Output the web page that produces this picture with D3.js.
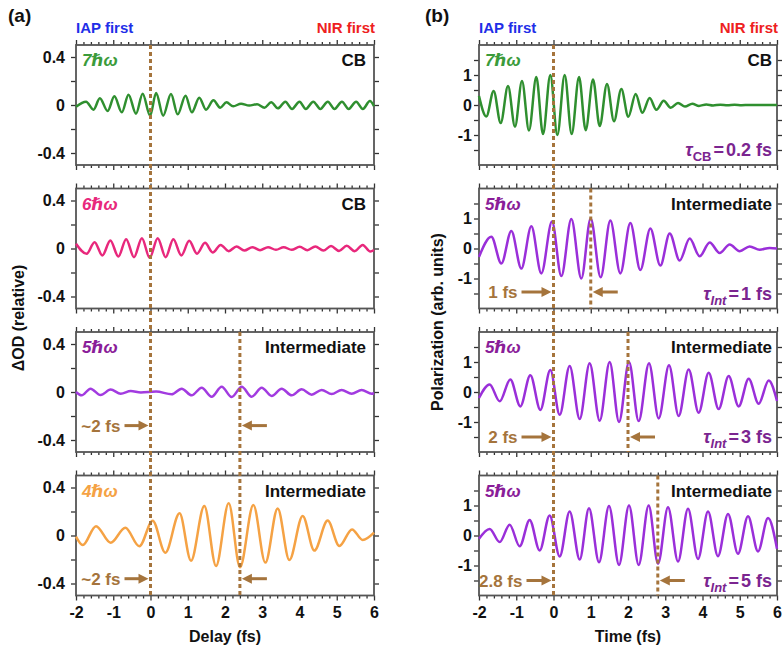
<!DOCTYPE html>
<html>
<head>
<meta charset="utf-8">
<script src="https://cdn.jsdelivr.net/npm/d3@7"></script>
<style>
  body { margin: 0; background: #fff; }
  svg { display: block; font-family: "Liberation Sans", Arial, "DejaVu Sans", sans-serif; font-weight: bold; }
</style>
</head>
<body>
<div id="chart"></div>
<script>
// ---- data: [time (fs), value] at the turning points ----
// (a) delay-dependent absorbance change
const cb7Delay = [[-2, -0.015], [-1.73, 0.028], [-1.53, -0.039], [-1.36, 0.056], [-1.15, -0.05], [-0.97, 0.072],
  [-0.77, -0.061], [-0.59, 0.086], [-0.39, -0.072], [-0.21, 0.094], [-0.01, -0.089], [0.15, 0.1], [0.34, -0.089],
  [0.55, 0.092], [0.73, -0.078], [0.94, 0.078], [1.11, -0.061], [1.31, 0.061], [1.49, -0.039], [1.69, 0.039],
  [1.87, -0.022], [2.04, 0.022], [2.22, -0.011], [2.43, 0.011], [2.65, -0.004], [2.86, 0.006], [3.06, -0.022],
  [3.24, 0.022], [3.42, -0.028], [3.62, 0.028], [3.8, -0.033], [4.0, 0.028], [4.17, -0.033], [4.37, 0.028],
  [4.56, -0.033], [4.76, 0.028], [4.94, -0.033], [5.14, 0.028], [5.32, -0.033], [5.52, 0.028], [5.7, -0.033],
  [5.89, 0.033], [6.0, -0.01]];
const cb6Delay = [[-2, 0.04], [-1.714, -0.044], [-1.501, 0.053], [-1.293, -0.058], [-1.078, 0.067], [-0.863, -0.067],
  [-0.654, 0.078], [-0.443, -0.072], [-0.231, 0.086], [-0.022, -0.078], [0.193, 0.086], [0.407, -0.072],
  [0.613, 0.078], [0.828, -0.058], [1.039, 0.064], [1.248, -0.044], [1.463, 0.047], [1.669, -0.033], [1.884, 0.03],
  [2.099, -0.022], [2.309, 0.017], [2.519, -0.017], [2.734, 0.011], [2.94, -0.014], [3.155, 0.011], [3.369, -0.011],
  [3.575, 0.011], [3.79, -0.011], [4.005, 0.014], [4.211, -0.014], [4.425, 0.017], [4.64, -0.017], [4.846, 0.02],
  [5.061, -0.02], [5.267, 0.022], [5.481, -0.022], [5.696, 0.03], [5.902, -0.025], [6.0, -0.012]];
const int5Delay = [[-2, 0.0], [-1.85, -0.028], [-1.61, 0.028], [-1.34, -0.026], [-1.07, 0.02], [-0.8, -0.014],
  [-0.53, 0.008], [-0.26, -0.004], [0.15, 0.004], [0.568, -0.019], [0.837, 0.028], [1.105, -0.028], [1.374, 0.036],
  [1.642, -0.039], [1.911, 0.044], [2.179, -0.042], [2.448, 0.044], [2.716, -0.039], [2.985, 0.036], [3.253, -0.033],
  [3.522, 0.028], [3.79, -0.028], [4.058, 0.022], [4.327, -0.022], [4.595, 0.017], [4.864, -0.017], [5.132, 0.017],
  [5.4, -0.014], [5.669, 0.017], [5.94, -0.014], [6.0, -0.01]];
const int4Delay = [[-2, -0.01], [-1.82, -0.08], [-1.463, 0.078], [-1.07, -0.06], [-0.676, 0.065], [-0.3, -0.09],
  [0.058, 0.123], [0.398, -0.143], [0.78, 0.185], [1.087, -0.21], [1.445, 0.246], [1.759, -0.254], [2.099, 0.268],
  [2.403, -0.265], [2.761, 0.254], [3.083, -0.226], [3.414, 0.226], [3.727, -0.204], [4.085, 0.163], [4.398, -0.126],
  [4.756, 0.124], [5.07, -0.087], [5.41, 0.051], [5.696, -0.037], [6.0, 0.024]];

// (b) time-dependent polarization
const cbPol = [[-2, 0.3], [-1.803, -0.38], [-1.606, 0.47], [-1.418, -0.6], [-1.221, 0.63], [-1.034, -0.72],
  [-0.846, 0.8], [-0.658, -0.85], [-0.461, 0.93], [-0.282, -0.97], [-0.085, 1.0], [0.103, -1.0], [0.3, 1.0],
  [0.488, -0.97], [0.685, 0.93], [0.864, -0.84], [1.061, 0.85], [1.24, -0.7], [1.436, 0.7], [1.624, -0.54],
  [1.821, 0.53], [2.009, -0.39], [2.206, 0.37], [2.385, -0.26], [2.582, 0.23], [2.761, -0.16], [2.958, 0.14],
  [3.146, -0.09], [3.343, 0.07], [3.53, -0.05], [3.727, 0.04], [3.906, -0.03], [4.103, 0.02], [4.282, -0.015],
  [4.48, 0.012], [4.67, -0.01], [4.86, 0.008], [5.05, -0.006], [5.25, 0.004], [5.45, -0.003], [6.0, 0.0]];
const int1Pol = [[-2, -0.28], [-1.669, 0.39], [-1.4, -0.5], [-1.132, 0.58], [-0.863, -0.67], [-0.595, 0.74],
  [-0.327, -0.83], [-0.04, 0.9], [0.21, -0.92], [0.479, 0.98], [0.747, -1.0], [0.998, 1.0], [1.266, -0.96],
  [1.526, 0.93], [1.794, -0.83], [2.063, 0.85], [2.331, -0.72], [2.6, 0.67], [2.868, -0.57], [3.119, 0.5],
  [3.387, -0.4], [3.656, 0.33], [3.924, -0.26], [4.193, 0.2], [4.461, -0.15], [4.729, 0.13], [4.998, -0.09],
  [5.266, 0.07], [5.535, -0.04], [5.803, 0.02], [6.0, 0.0]];
const int3Pol = [[-2, -0.2], [-1.714, 0.25], [-1.445, -0.31], [-1.159, 0.42], [-0.89, -0.48], [-0.622, 0.56],
  [-0.353, -0.6], [-0.085, 0.73], [0.166, -0.76], [0.434, 0.87], [0.703, -0.9], [0.971, 0.96], [1.24, -0.96],
  [1.508, 1.0], [1.759, -1.0], [2.027, 1.0], [2.287, -0.97], [2.564, 0.96], [2.824, -0.88], [3.101, 0.89],
  [3.36, -0.8], [3.629, 0.75], [3.897, -0.69], [4.166, 0.64], [4.434, -0.57], [4.703, 0.53], [4.971, -0.48],
  [5.24, 0.44], [5.508, -0.39], [5.777, 0.38], [6.0, -0.3]];
const int5Pol = [[-2, -0.11], [-1.714, 0.22], [-1.445, -0.22], [-1.177, 0.36], [-0.908, -0.36], [-0.64, 0.52],
  [-0.371, -0.5], [-0.103, 0.67], [0.166, -0.7], [0.434, 0.8], [0.703, -0.8], [0.953, 0.91], [1.222, -0.89],
  [1.49, 0.98], [1.759, -0.98], [2.027, 1.0], [2.287, -0.98], [2.555, 1.0], [2.806, -0.94], [3.074, 0.94],
  [3.343, -0.87], [3.611, 0.89], [3.88, -0.78], [4.148, 0.8], [4.416, -0.69], [4.685, 0.72], [4.953, -0.61],
  [5.222, 0.64], [5.49, -0.53], [5.759, 0.58], [6.0, -0.44]];

const harmonicsA = ["7ℏω", "6ℏω", "5ℏω", "4ℏω"];
const harmonicsB = ["7ℏω", "5ℏω", "5ℏω", "5ℏω"];
const statesA = ["CB", "CB", "Intermediate", "Intermediate"];
const statesB = ["CB", "Intermediate", "Intermediate", "Intermediate"];
const lifetimesB = [["CB", "0.2 fs"], ["Int", "1 fs"], ["Int", "3 fs"], ["Int", "5 fs"]];
const delaysA = [null, null, 2.4, 2.4];          // second dashed marker, fs
const delaysB = [null, 1, 2, 2.8];
const delayTextA = [null, null, "~2 fs", "~2 fs"];
const delayTextB = [null, "1 fs", "2 fs", "2.8 fs"];

const xTicks = [-2, -1, 0, 1, 2, 3, 4, 5, 6];
const yTicksA = [-0.4, 0, 0.4];
const yTicksB = [-1, 0, 1];

// ---- layout ----
const W = 782, H = 647;
const panelTop = [45, 188.5, 332, 475.5], panelH = 120, plotW = 298;
const colLeft = { a: 76, b: 479 };
const brown = "#a5743c";

const svg = d3.select("#chart").append("svg").attr("width", W).attr("height", H);

const xA = d3.scaleLinear().domain([-2, 6]).range([colLeft.a, colLeft.a + plotW]);
const xB = d3.scaleLinear().domain([-2, 6]).range([colLeft.b, colLeft.b + plotW]);

const fmt = d => String(d).replace("\u2212", "-");
const minorX = d3.range(-20, 61, 2).map(d => d / 10).filter(d => Math.abs(d - Math.round(d)) > 1e-6);

function styleAxis(g) {
  g.select(".domain").remove();
  g.selectAll(".tick line").attr("stroke", "#333").attr("stroke-width", 1.3);
  g.selectAll(".tick text").attr("fill", "#111").style("font-size", "16px").style("font-weight", "bold")
    .style("font-family", '"Liberation Sans", Arial, sans-serif');
}

function drawPanel(x, i, cfg) {
  const top = panelTop[i], bottom = top + panelH;
  const left = x.range()[0], right = x.range()[1];
  const y = d3.scaleLinear().domain(cfg.yDomain).range([bottom, top]);
  const g = svg.append("g");

  // ticks, all pointing outward
  const last = i === 3;
  g.append("g").attr("transform", `translate(0,${bottom})`)
    .call(d3.axisBottom(x).tickValues(xTicks).tickSize(5).tickPadding(6).tickFormat(last ? fmt : ""))
    .call(styleAxis);
  g.append("g").attr("transform", `translate(0,${bottom})`)
    .call(d3.axisBottom(x).tickValues(minorX).tickSize(3).tickFormat("")).call(styleAxis);
  g.append("g").attr("transform", `translate(0,${top})`)
    .call(d3.axisTop(x).tickValues(xTicks).tickSize(5).tickFormat("")).call(styleAxis);
  g.append("g").attr("transform", `translate(0,${top})`)
    .call(d3.axisTop(x).tickValues(minorX).tickSize(3).tickFormat("")).call(styleAxis);
  g.append("g").attr("transform", `translate(${left},0)`)
    .call(d3.axisLeft(y).tickValues(cfg.yAll).tickSize(5).tickPadding(cfg.yPad)
      .tickFormat(d => cfg.yTicks.some(t => Math.abs(t - d) < 1e-9) ? fmt(d) : ""))
    .call(styleAxis);
  g.append("g").attr("transform", `translate(${right},0)`)
    .call(d3.axisRight(y).tickValues(cfg.yAll).tickSize(5).tickFormat("")).call(styleAxis);

  g.append("rect").attr("x", left).attr("y", top).attr("width", right - left).attr("height", panelH)
    .attr("fill", "none").attr("stroke", "#555").attr("stroke-width", 1.8);

  const line = d3.line().x(d => x(d[0])).y(d => y(d[1])).curve(d3.curveMonotoneX);
  g.append("path").datum(cfg.data).attr("d", line)
    .attr("fill", "none").attr("stroke", cfg.color).attr("stroke-width", 2.5);

  g.append("text").attr("x", left + 6).attr("y", top + 21)
    .attr("fill", cfg.textColor).style("font-size", "17px").style("font-style", "italic")
    .text(cfg.harmonic);
  g.append("text").attr("x", right - cfg.rightPad).attr("y", top + 21).attr("text-anchor", "end")
    .attr("fill", "#111").style("font-size", "17px").text(cfg.state);

  if (cfg.lifetime) {
    const t = g.append("text").attr("x", right - cfg.rightPad).attr("y", y(-1.7)).attr("text-anchor", "end")
      .attr("fill", "#7b2590").style("font-size", "18px");
    t.append("tspan").style("font-style", "italic").text("τ");
    t.append("tspan").attr("dy", 5).style("font-size", "13px")
      .style("font-style", cfg.lifetime[0] === "Int" ? "italic" : "normal").text(cfg.lifetime[0]);
    t.append("tspan").attr("dy", -5).attr("dx", 2).text("=");
    t.append("tspan").attr("dx", 2).text(cfg.lifetime[1]);
  }
  return y;
}

function arrow(x1, x2, yy) {
  const dir = Math.sign(x2 - x1);
  svg.append("line").attr("x1", x1).attr("x2", x2 - dir * 7).attr("y1", yy).attr("y2", yy)
    .attr("stroke", brown).attr("stroke-width", 3);
  svg.append("path").attr("d", `M${x2},${yy}L${x2 - dir * 10},${yy - 5}L${x2 - dir * 10},${yy + 5}Z`)
    .attr("fill", brown);
}

function dashed(xx, y1, y2) {
  svg.append("line").attr("x1", xx).attr("x2", xx).attr("y1", y1).attr("y2", y2)
    .attr("stroke", brown).attr("stroke-width", 3).attr("stroke-dasharray", "4,3");
}

// ---- column (a) ----
const dataA = [cb7Delay, cb6Delay, int5Delay, int4Delay];
const lineColA = ["#2f8f2f", "#e8287c", "#a23be0", "#f5a244"];
const textColA = ["#3b9b3b", "#e8287c", "#8a1d99", "#f5a244"];
const yScalesA = dataA.map((d, i) => drawPanel(xA, i, {
  data: d, color: lineColA[i], textColor: textColA[i], harmonic: harmonicsA[i], state: statesA[i],
  yDomain: [-0.5, 0.5], yAll: [-0.4, -0.2, 0, 0.2, 0.4], yTicks: yTicksA, yPad: 6, rightPad: 8
}));

// ---- column (b) ----
const dataB = [cbPol, int1Pol, int3Pol, int5Pol];
const lineColB = ["#2f8f2f", "#9a2fd9", "#9a2fd9", "#9a2fd9"];
const textColB = ["#3b9b3b", "#8a1d99", "#8a1d99", "#8a1d99"];
const yScalesB = dataB.map((d, i) => drawPanel(xB, i, {
  data: d, color: lineColB[i], textColor: textColB[i], harmonic: harmonicsB[i], state: statesB[i],
  lifetime: lifetimesB[i],
  yDomain: [-2, 2], yAll: [-1.5, -1, -0.5, 0, 0.5, 1, 1.5], yTicks: yTicksB, yPad: 2, rightPad: 5
}));

// delay markers
const bottomAll = panelTop[3] + panelH;
dashed(xA(0), panelTop[0], bottomAll);
dashed(xA(delaysA[2]), panelTop[2], bottomAll);
dashed(xB(0), panelTop[0], bottomAll);
[1, 2, 3].forEach(i => dashed(xB(delaysB[i]), panelTop[i], panelTop[i] + panelH));

// arrows with delay text
const arrowYA = [null, null, -0.28, -0.36];
const arrowYB = [null, -1.45, -1.5, -1.5];
const arrowLenB = [null, 30, 30, 25];
[2, 3].forEach(i => {
  const yy = yScalesA[i](arrowYA[i]);
  const tip = xA(0) - 2;
  arrow(tip - 24, tip, yy);
  arrow(xA(delaysA[i]) + 27, xA(delaysA[i]) + 2, yy);
  svg.append("text").attr("x", tip - 28).attr("y", yy + 6).attr("text-anchor", "end")
    .attr("fill", brown).style("font-size", "17px").text(delayTextA[i]);
});
[1, 2, 3].forEach(i => {
  const yy = yScalesB[i](arrowYB[i]);
  const tip = xB(0) - 2;
  arrow(tip - arrowLenB[i], tip, yy);
  arrow(xB(delaysB[i]) + 27, xB(delaysB[i]) + 2, yy);
  svg.append("text").attr("x", tip - arrowLenB[i] - 4).attr("y", yy + 6).attr("text-anchor", "end")
    .attr("fill", brown).style("font-size", "17px").text(delayTextB[i]);
});

// ---- headers and axis titles ----
svg.append("text").attr("x", 8).attr("y", 22).style("font-size", "19px").attr("fill", "#111").text("(a)");
svg.append("text").attr("x", 425).attr("y", 22).style("font-size", "19px").attr("fill", "#111").text("(b)");
[xA, xB].forEach(x => {
  svg.append("text").attr("x", x.range()[0]).attr("y", 33).style("font-size", "15px")
    .attr("fill", "#1f2fe8").text("IAP first");
  svg.append("text").attr("x", x.range()[1] + 1).attr("y", 33).attr("text-anchor", "end")
    .style("font-size", "15px").attr("fill", "#ee2020").text("NIR first");
});
svg.append("text").attr("x", xA(2)).attr("y", 642).attr("text-anchor", "middle")
  .style("font-size", "16px").attr("fill", "#111").text("Delay (fs)");
svg.append("text").attr("x", xB(2)).attr("y", 642).attr("text-anchor", "middle")
  .style("font-size", "16px").attr("fill", "#111").text("Time (fs)");
svg.append("text").attr("transform", "translate(24,318) rotate(-90)").attr("text-anchor", "middle")
  .style("font-size", "16px").attr("fill", "#111").text("ΔOD (relative)");
svg.append("text").attr("transform", "translate(443,322) rotate(-90)").attr("text-anchor", "middle")
  .style("font-size", "16px").attr("fill", "#111").text("Polarization (arb. units)");
</script>
</body>
</html>
